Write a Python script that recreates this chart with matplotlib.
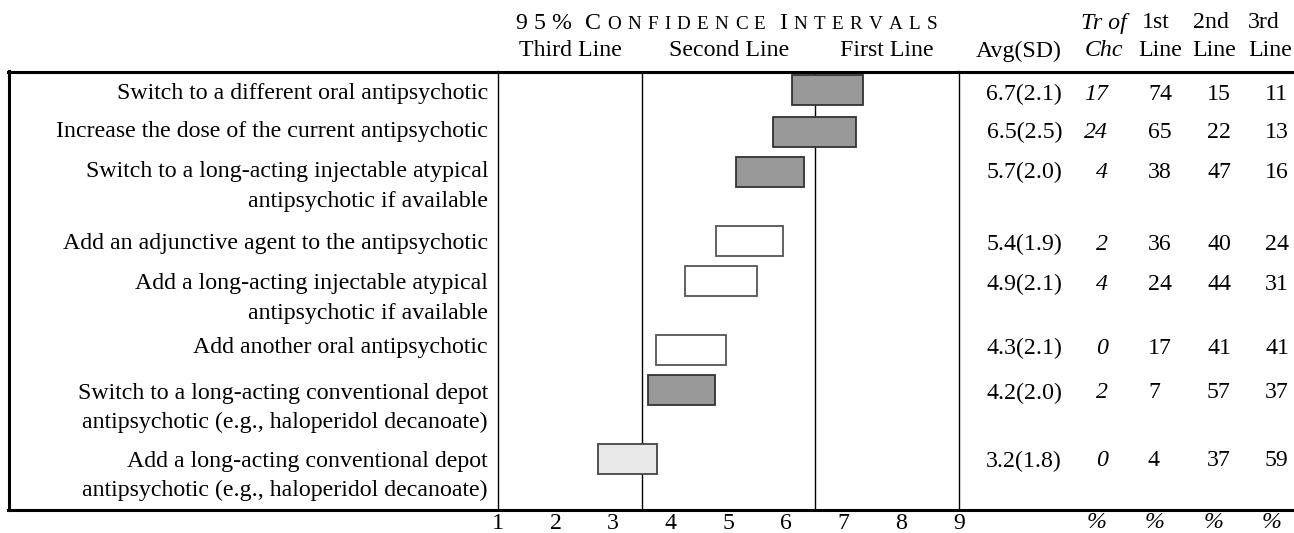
import matplotlib.pyplot as plt
from matplotlib.lines import Line2D

plt.rcParams['font.family'] = 'Liberation Serif'

labels = [
    ['Switch to a different oral antipsychotic'],
    ['Increase the dose of the current antipsychotic'],
    ['Switch to a long-acting injectable atypical', 'antipsychotic if available'],
    ['Add an adjunctive agent to the antipsychotic'],
    ['Add a long-acting injectable atypical', 'antipsychotic if available'],
    ['Add another oral antipsychotic'],
    ['Switch to a long-acting conventional depot', 'antipsychotic (e.g., haloperidol decanoate)'],
    ['Add a long-acting conventional depot', 'antipsychotic (e.g., haloperidol decanoate)'],
]
avg = [6.7, 6.5, 5.7, 5.4, 4.9, 4.3, 4.2, 3.2]
sd = [2.1, 2.5, 2.0, 1.9, 2.1, 2.1, 2.0, 1.8]
tr_of_chc = [17, 24, 4, 2, 4, 0, 2, 0]
first_line = [74, 65, 38, 36, 24, 17, 7, 4]
second_line = [15, 22, 47, 40, 44, 41, 57, 37]
third_line = [11, 13, 16, 24, 31, 41, 37, 59]
ci_low = [6.11, 5.77, 5.13, 4.79, 4.25, 3.75, 3.61, 2.74]
ci_high = [7.33, 7.21, 6.31, 5.94, 5.50, 4.96, 4.76, 3.76]
shade = ['dark', 'dark', 'dark', 'white', 'white', 'white', 'dark', 'light']

W, H = 1294, 533
FS = 17.2


def fx(px):
    return px / W


def fy(py):
    return 1 - py / H


fill = {'dark': '#999999', 'white': 'white', 'light': '#e8e8e8'}
edge = {'dark': '#333333', 'white': '#555555', 'light': '#444444'}

fig = plt.figure(figsize=(W / 100, H / 100), dpi=100)

# chart area (y in pixel rows)
ax = fig.add_axes([fx(498), fy(509), (959 - 498) / W, (509 - 71) / H])
ax.set_xlim(1, 9)
ax.set_ylim(509, 71)
bar_y = [90, 131.7, 171.7, 240.5, 281, 350, 390, 459.3]
widths = [h - l for l, h in zip(ci_low, ci_high)]
ax.barh(bar_y, widths, left=ci_low, height=30,
        color=[fill[s] for s in shade], edgecolor=[edge[s] for s in shade],
        linewidth=1.3, zorder=3)
for v in (3.5, 6.5):
    ax.axvline(v, color='black', lw=1, zorder=1)
for s in ('top', 'bottom'):
    ax.spines[s].set_visible(False)
for s in ('left', 'right'):
    ax.spines[s].set_linewidth(1)
ax.set_xticks(range(1, 10))
ax.set_xticklabels([str(i) for i in range(1, 10)], fontsize=FS)
ax.tick_params(axis='x', length=0, pad=3)
ax.set_yticks([])

# frame lines
fig.add_artist(Line2D([fx(8), 1], [fy(71.5)] * 2, lw=2.2, color='black'))
fig.add_artist(Line2D([fx(8), 1], [fy(509.5)] * 2, lw=2.2, color='black'))
fig.add_artist(Line2D([fx(9)] * 2, [fy(71), fy(509.5)], lw=2.2, color='black'))

# row texts
text_y = [94, 132, 172, 244, 284, 348, 393, 461]
for i, y in enumerate(text_y):
    for j, line in enumerate(labels[i]):
        fig.text(fx(488), fy(y + 29 * j), line, ha='right', va='center', fontsize=FS)
    fig.text(fx(1062), fy(y), f'{avg[i]:.1f}({sd[i]:.1f})', ha='right', va='center', fontsize=FS)
    fig.text(fx(1108), fy(y), str(tr_of_chc[i]), ha='right', va='center', fontsize=FS, style='italic')
    fig.text(fx(1148), fy(y), str(first_line[i]), ha='left', va='center', fontsize=FS)
    fig.text(fx(1207), fy(y), str(second_line[i]), ha='left', va='center', fontsize=FS)
    fig.text(fx(1265), fy(y), str(third_line[i]), ha='left', va='center', fontsize=FS)

# percent signs under the count columns
for px in (1097, 1155, 1214, 1272):
    fig.text(fx(px), fy(522), '%', ha='center', va='center', fontsize=FS, style='italic')

# column headers
fig.text(fx(570), fy(50), 'Third Line', ha='center', va='center', fontsize=FS)
fig.text(fx(729), fy(50), 'Second Line', ha='center', va='center', fontsize=FS)
fig.text(fx(887), fy(50), 'First Line', ha='center', va='center', fontsize=FS)
fig.text(fx(1062), fy(51), 'Avg(SD)', ha='right', va='center', fontsize=FS)
fig.text(fx(1104), fy(23), 'Tr of', ha='center', va='center', fontsize=FS, style='italic')
fig.text(fx(1104), fy(51), 'Chc', ha='center', va='center', fontsize=FS, style='italic')
for px, t in ((1142, '1st'), (1193, '2nd'), (1248, '3rd')):
    fig.text(fx(px), fy(23), t, ha='left', va='center', fontsize=FS)
for px in (1138, 1192, 1248):
    fig.text(fx(px), fy(51), 'Line', ha='left', va='center', fontsize=FS)

# letter-spaced small-caps title
pieces = [('9', FS), ('5', FS), ('%', FS), (' ', 0),
          ('C', FS)] + [(c, FS * 0.8) for c in 'ONFIDENCE'] + [(' ', 0),
          ('I', FS)] + [(c, FS * 0.8) for c in 'NTERVALS']
renderer = fig.canvas.get_renderer()
items = []
for c, size in pieces:
    if c == ' ':
        items.append(None)
        continue
    t = fig.text(0, fy(22), c, ha='left', va='baseline', fontsize=size)
    items.append((t, t.get_window_extent(renderer).width))
x0, x1 = 515, 937
n_chars = sum(1 for it in items if it is not None)
total_w = sum(it[1] for it in items if it is not None)
gap_word = 2.2
track = (x1 - x0 - total_w) / (n_chars - 1 + 2 * (gap_word - 1))
x = x0
for it in items:
    if it is None:
        x += track * (gap_word - 1)
        continue
    t, w = it
    t.set_position((fx(x), fy(29)))
    x += w + track

fig.savefig('out.png', dpi=100)
